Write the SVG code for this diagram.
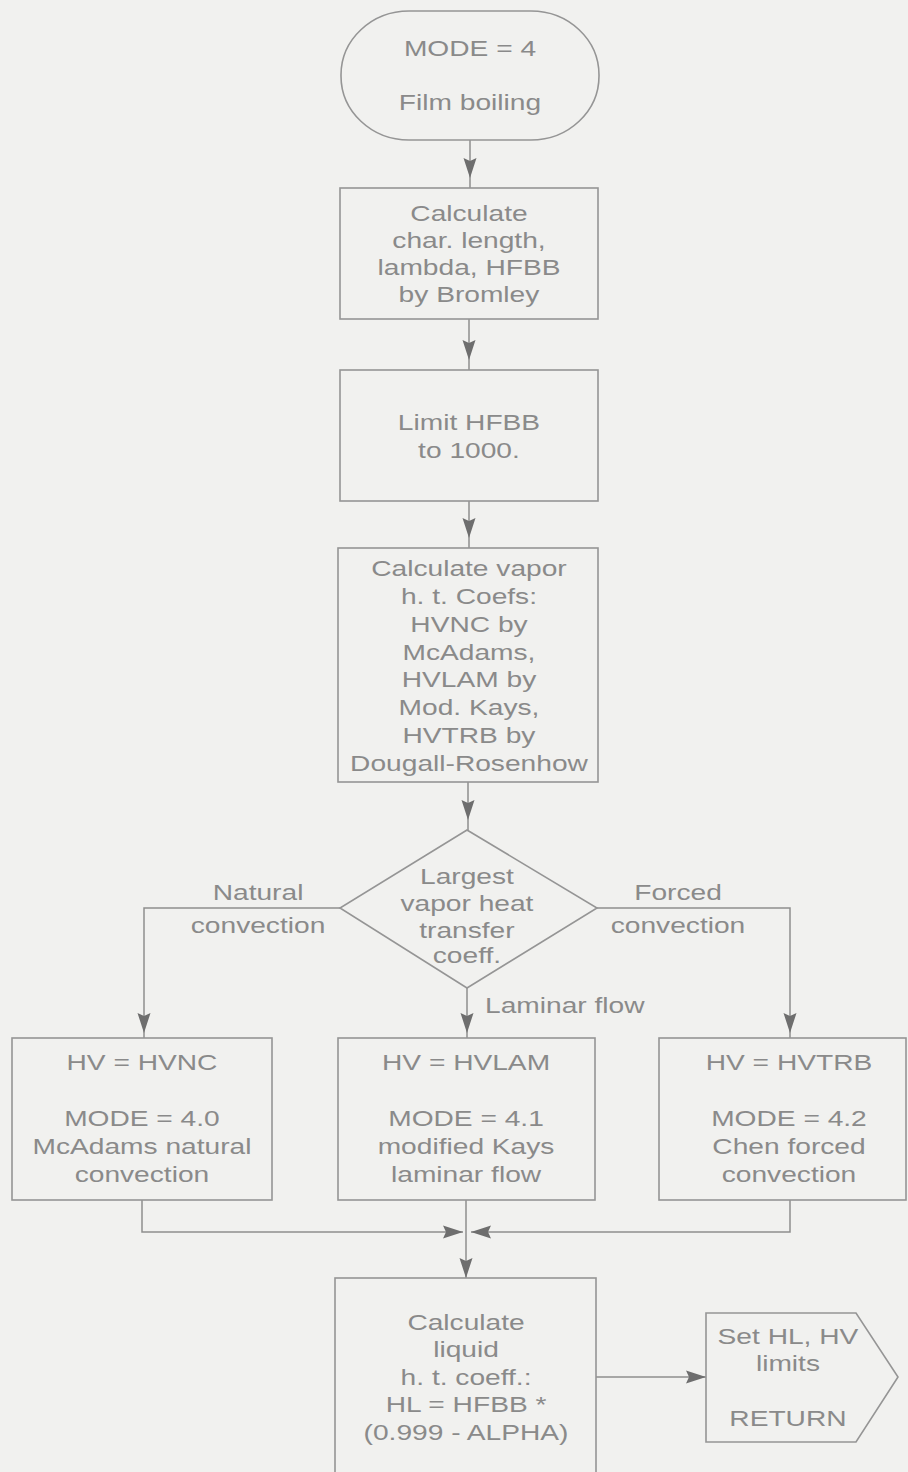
<svg xmlns="http://www.w3.org/2000/svg" width="908" height="1472" viewBox="0 0 908 1472">
  <style>
    .shape { fill: none; stroke: #959595; stroke-width: 1.6; }
    .wire { fill: none; stroke: #8e8e8e; stroke-width: 1.5; }
    .lbl { font-family: "Liberation Sans", Arial, sans-serif; font-size: 22px; fill: #8a8a8a; text-anchor: middle; }
    .start { text-anchor: start; }
  </style>
  <defs>
    <!-- arrowhead whose tip stops 10px short of the path end -->
    <marker id="arrGap" markerUnits="userSpaceOnUse" markerWidth="32" markerHeight="14" refX="30" refY="7" orient="auto">
      <path d="M0,0.5 L20,7 L0,13.5 L3,7 Z" fill="#6e6e6e"/>
    </marker>
    <!-- arrowhead whose tip stops 5px short of the path end -->
    <marker id="arrNear" markerUnits="userSpaceOnUse" markerWidth="32" markerHeight="14" refX="25" refY="7" orient="auto">
      <path d="M0,0.5 L20,7 L0,13.5 L3,7 Z" fill="#6e6e6e"/>
    </marker>
    <!-- arrowhead with its tip on the path end -->
    <marker id="arrTip" markerUnits="userSpaceOnUse" markerWidth="22" markerHeight="14" refX="20" refY="7" orient="auto">
      <path d="M0,0.5 L20,7 L0,13.5 L3,7 Z" fill="#6e6e6e"/>
    </marker>
  </defs>

  <rect x="0" y="0" width="908" height="1472" fill="#f1f1ef"/>

  <!-- connectors -->
  <g id="connectors">
    <path class="wire" d="M470,140 V188" marker-end="url(#arrGap)"/>
    <path class="wire" d="M469,319 V370" marker-end="url(#arrGap)"/>
    <path class="wire" d="M469,501 V548" marker-end="url(#arrGap)"/>
    <path class="wire" d="M468,782 V830" marker-end="url(#arrGap)"/>
    <path class="wire" d="M340,908 H144 V1038" marker-end="url(#arrNear)"/>
    <path class="wire" d="M597,908 H790 V1038" marker-end="url(#arrNear)"/>
    <path class="wire" d="M467,988 V1038" marker-end="url(#arrNear)"/>
    <path class="wire" d="M142,1200 V1232 H463" marker-end="url(#arrTip)"/>
    <path class="wire" d="M790,1200 V1232 H471" marker-end="url(#arrTip)"/>
    <path class="wire" d="M466,1200 V1278" marker-end="url(#arrTip)"/>
    <path class="wire" d="M596,1377 H706" marker-end="url(#arrTip)"/>
  </g>

  <!-- node outlines -->
  <g id="start">
    <rect class="shape" x="341" y="11" width="258" height="129" rx="68" ry="64"/>
  </g>
  <g id="bromley">
    <rect class="shape" x="340" y="188" width="258" height="131"/>
  </g>
  <g id="limit">
    <rect class="shape" x="340" y="370" width="258" height="131"/>
  </g>
  <g id="vapor-coefs">
    <rect class="shape" x="338" y="548" width="260" height="234"/>
  </g>
  <g id="decision">
    <path class="shape" d="M467,830 L597,908 L467,988 L340,908 Z"/>
  </g>
  <g id="natural">
    <rect class="shape" x="12" y="1038" width="260" height="162"/>
  </g>
  <g id="laminar">
    <rect class="shape" x="338" y="1038" width="257" height="162"/>
  </g>
  <g id="forced">
    <rect class="shape" x="659" y="1038" width="247" height="162"/>
  </g>
  <g id="liquid">
    <rect class="shape" x="335" y="1278" width="261" height="210"/>
  </g>
  <g id="return">
    <path class="shape" d="M706,1313 H856 L898,1377 L856,1442 H706 Z"/>
  </g>

  <!-- labels, set in a horizontally widened face (x values divided by 1.28) -->
  <g transform="scale(1.28,1)">
    <g id="start-text">
      <text class="lbl" x="367.2" y="56">MODE = 4</text>
      <text class="lbl" x="367.2" y="110">Film boiling</text>
    </g>
    <g id="bromley-text">
      <text class="lbl" x="366.4" y="221">Calculate</text>
      <text class="lbl" x="366.4" y="248">char. length,</text>
      <text class="lbl" x="366.4" y="275">lambda, HFBB</text>
      <text class="lbl" x="366.4" y="302">by Bromley</text>
    </g>
    <g id="limit-text">
      <text class="lbl" x="366.4" y="430">Limit HFBB</text>
      <text class="lbl" x="366.4" y="458">to 1000.</text>
    </g>
    <g id="vapor-coefs-text">
      <text class="lbl" x="366.4" y="576">Calculate vapor</text>
      <text class="lbl" x="366.4" y="604">h. t. Coefs:</text>
      <text class="lbl" x="366.4" y="632">HVNC by</text>
      <text class="lbl" x="366.4" y="660">McAdams,</text>
      <text class="lbl" x="366.4" y="687">HVLAM by</text>
      <text class="lbl" x="366.4" y="715">Mod. Kays,</text>
      <text class="lbl" x="366.4" y="743">HVTRB by</text>
      <text class="lbl" x="366.4" y="771">Dougall-Rosenhow</text>
    </g>
    <g id="decision-text">
      <text class="lbl" x="364.8" y="884">Largest</text>
      <text class="lbl" x="364.8" y="911">vapor heat</text>
      <text class="lbl" x="364.8" y="938">transfer</text>
      <text class="lbl" x="364.8" y="963">coeff.</text>
    </g>
    <g id="branch-labels">
      <text class="lbl" x="201.6" y="900">Natural</text>
      <text class="lbl" x="201.6" y="933">convection</text>
      <text class="lbl" x="529.7" y="900">Forced</text>
      <text class="lbl" x="529.7" y="933">convection</text>
      <text class="lbl start" x="378.9" y="1013">Laminar flow</text>
    </g>
    <g id="natural-text">
      <text class="lbl" x="110.9" y="1070">HV = HVNC</text>
      <text class="lbl" x="110.9" y="1126">MODE = 4.0</text>
      <text class="lbl" x="110.9" y="1154">McAdams natural</text>
      <text class="lbl" x="110.9" y="1182">convection</text>
    </g>
    <g id="laminar-text">
      <text class="lbl" x="364.1" y="1070">HV = HVLAM</text>
      <text class="lbl" x="364.1" y="1126">MODE = 4.1</text>
      <text class="lbl" x="364.1" y="1154">modified Kays</text>
      <text class="lbl" x="364.1" y="1182">laminar flow</text>
    </g>
    <g id="forced-text">
      <text class="lbl" x="616.4" y="1070">HV = HVTRB</text>
      <text class="lbl" x="616.4" y="1126">MODE = 4.2</text>
      <text class="lbl" x="616.4" y="1154">Chen forced</text>
      <text class="lbl" x="616.4" y="1182">convection</text>
    </g>
    <g id="liquid-text">
      <text class="lbl" x="364.1" y="1330">Calculate</text>
      <text class="lbl" x="364.1" y="1357">liquid</text>
      <text class="lbl" x="364.1" y="1385">h. t. coeff.:</text>
      <text class="lbl" x="364.1" y="1412">HL = HFBB *</text>
      <text class="lbl" x="364.1" y="1440">(0.999 - ALPHA)</text>
    </g>
    <g id="return-text">
      <text class="lbl" x="615.6" y="1344">Set HL, HV</text>
      <text class="lbl" x="615.6" y="1371">limits</text>
      <text class="lbl" x="615.6" y="1426">RETURN</text>
    </g>
  </g>
</svg>
